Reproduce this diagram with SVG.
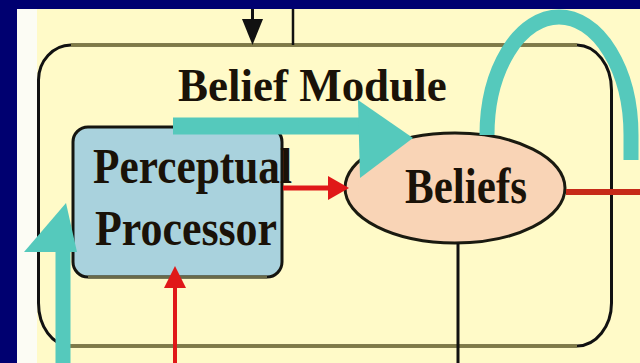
<svg xmlns="http://www.w3.org/2000/svg" width="640" height="363" viewBox="0 0 640 363">
<defs>
<style>
.lbl{font-family:"Liberation Serif","Times New Roman",serif;font-weight:bold;fill:#1a1208;}
.teal{fill:none;stroke:#55c9bc;}
.tealf{fill:#55c9bc;}
.red{stroke:#e01818;fill:none;}
.redf{fill:#e01818;}
.blk{stroke:#111;fill:none;}
</style>
</defs>
<rect x="0" y="0" width="640" height="363" fill="#000070"/>
<rect x="17" y="9" width="623" height="354" fill="#fffac8"/>
<rect x="17" y="9" width="20" height="354" fill="#fcfcf4"/>
<g id="module">
<path d="M38.5,80 A33,35 0 0 1 71,45 L577,45 A35,45 0 0 1 611.5,90 L611.5,303 A35,43 0 0 1 577,346 L70,346 A32,43 0 0 1 38.5,303 Z" fill="#fffac8" stroke="#111" stroke-width="3"/>
<line x1="71" y1="45" x2="577" y2="45" stroke="#7f7a46" stroke-width="3.5"/>
<line x1="70" y1="346" x2="577" y2="346" stroke="#7f7a46" stroke-width="3.5"/>
<text class="lbl" font-size="45" transform="translate(178,101) scale(1,1.05)">Belief Module</text>
</g>
<g id="processor">
<rect x="73" y="127" width="209" height="150" rx="15" ry="15" fill="#a9d2dd" stroke="#151510" stroke-width="3"/>
<line x1="88" y1="277" x2="267" y2="277" stroke="#6a6a48" stroke-width="3"/>
<text class="lbl" font-size="43" textLength="199" lengthAdjust="spacingAndGlyphs" transform="translate(93,183) scale(1,1.16)">Perceptual</text>
<text class="lbl" font-size="43" textLength="182" lengthAdjust="spacingAndGlyphs" transform="translate(95,245) scale(1,1.16)">Processor</text>
</g>
<g id="beliefs">
<ellipse cx="455" cy="188" rx="110" ry="55" fill="#f9d4b6" stroke="#1a1a10" stroke-width="3"/>
<text class="lbl" font-size="43" textLength="122" lengthAdjust="spacingAndGlyphs" transform="translate(405,203) scale(1,1.16)">Beliefs</text>
</g>
<g id="connectors">
<line class="blk" x1="252.5" y1="9" x2="252.5" y2="30" stroke-width="3"/>
<polygon points="242,19 263,19 252.5,45" fill="#111"/>
<line class="blk" x1="293" y1="9" x2="293" y2="45" stroke-width="2.5"/>
<line class="blk" x1="458" y1="243" x2="458" y2="363" stroke-width="3"/>
<line class="red" x1="283" y1="188" x2="332" y2="188" stroke-width="5"/>
<polygon class="redf" points="328,176 349,188 328,200"/>
<line x1="566" y1="192" x2="640" y2="192" stroke="#c62a18" stroke-width="6"/>
<line class="red" x1="175" y1="363" x2="175" y2="284" stroke-width="4"/>
<polygon class="redf" points="164,288 175,266 186,288"/>
<path class="teal" d="M487,135 A72,118 0 0 1 631,135 L631,160" stroke-width="15"/>
<line class="teal" x1="173" y1="126" x2="368" y2="126" stroke-width="17"/>
<polygon class="tealf" points="358,100 413,138 360,178"/>
<line class="teal" x1="63" y1="363" x2="63" y2="240" stroke-width="15"/>
<polygon class="tealf" points="24,252 66,203 77,252"/>
</g>
</svg>
